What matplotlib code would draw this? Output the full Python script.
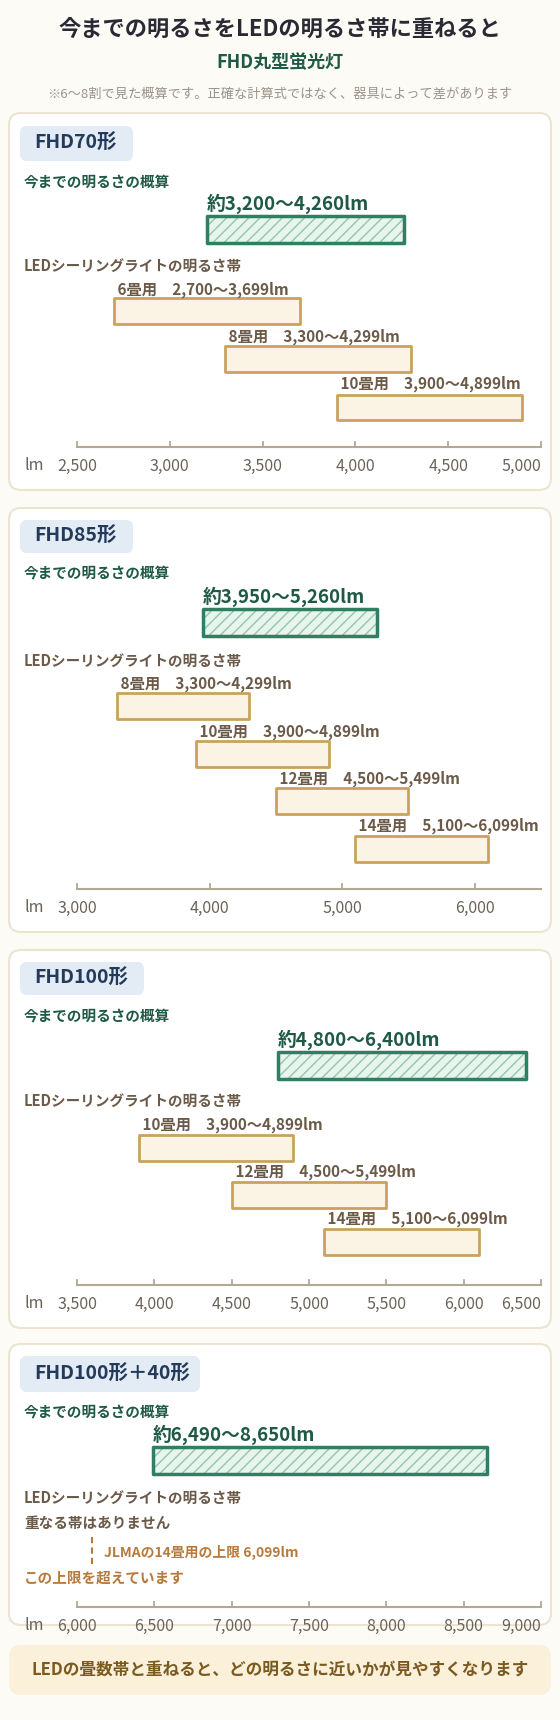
import matplotlib
matplotlib.use("Agg")
import matplotlib.pyplot as plt
from matplotlib.patches import FancyBboxPatch, Rectangle

plt.rcParams['font.family'] = ['Noto Sans CJK JP', 'DejaVu Sans']

W, H = 560, 1720
panel_names = ["FHD70形", "FHD85形", "FHD100形", "FHD100形＋40形"]
est_low = [3200, 3950, 4800, 6490]
est_high = [4260, 5260, 6400, 8650]
est_labels = ["約3,200〜4,260lm", "約3,950〜5,260lm", "約4,800〜6,400lm", "約6,490〜8,650lm"]
led_names = [["6畳用", "8畳用", "10畳用"],
             ["8畳用", "10畳用", "12畳用", "14畳用"],
             ["10畳用", "12畳用", "14畳用"],
             []]
led_low = [[2700, 3300, 3900], [3300, 3900, 4500, 5100], [3900, 4500, 5100], []]
led_high = [[3699, 4299, 4899], [4299, 4899, 5499, 6099], [4899, 5499, 6099], []]
led_ranges = [["2,700〜3,699lm", "3,300〜4,299lm", "3,900〜4,899lm"],
              ["3,300〜4,299lm", "3,900〜4,899lm", "4,500〜5,499lm", "5,100〜6,099lm"],
              ["3,900〜4,899lm", "4,500〜5,499lm", "5,100〜6,099lm"], []]
ticks = [[2500, 3000, 3500, 4000, 4500, 5000],
         [3000, 4000, 5000, 6000],
         [3500, 4000, 4500, 5000, 5500, 6000, 6500],
         [6000, 6500, 7000, 7500, 8000, 8500, 9000]]
xlims = [(2500, 5000), (3000, 6500), (3500, 6500), (6000, 9000)]
jlma_limit = 6099

# layout (pixel)
boxes = [(113, 490), (508, 932), (950, 1328), (1344, 1625)]
badge_y = [(126, 161), (520, 553), (962, 995), (1356, 1392)]
badge_w = [113, 113, 124, 180]
hdr_y = [182, 573, 1016, 1412]
est_bar = [(216, 243), (609, 636), (1052, 1079), (1447, 1474)]
led_hdr_y = [266, 661, 1101, 1498]
led_lab_y = [[290, 337, 384], [684, 732, 779, 826], [1125, 1172, 1219], []]
led_bar = [[(298, 324), (346, 372), (395, 420)],
           [(693, 719), (741, 767), (788, 814), (836, 862)],
           [(1135, 1161), (1182, 1208), (1229, 1255)], []]
axis_y = [447, 889, 1285, 1607]
X0, X1 = 77, 541

BG = "#fdfbf5"; BORDER = "#ebe4d0"; BADGE = "#e3ebf5"; BADGE_T = "#243a5a"
GREEN_T = "#1e5a45"; GREEN_E = "#2f7f62"; GREEN_F = "#e8f4ee"; HATCH = "#93c6ad"
LED_T = "#6b5a48"; LED_F = "#fbf3e4"; LED_E = "#c9a35e"; AX = "#b3a894"; TICK_T = "#6b6258"
ORANGE = "#b87a3c"

fig = plt.figure(figsize=(W / 100, H / 100), dpi=100, facecolor=BG)
bg = fig.add_axes([0, 0, 1, 1])
bg.set_xlim(0, W); bg.set_ylim(H, 0); bg.axis("off")

bg.text(W / 2, 29, "今までの明るさをLEDの明るさ帯に重ねると", ha="center", va="center",
        fontsize=16, fontweight="bold", color="#2a2a35")
bg.text(W / 2, 63, "FHD丸型蛍光灯", ha="center", va="center", fontsize=13,
        fontweight="bold", color=GREEN_T)
bg.text(W / 2, 94, "※6〜8割で見た概算です。正確な計算式ではなく、器具によって差があります",
        ha="center", va="center", fontsize=9.5, color="#9a938a")

for i in range(4):
    top, bot = boxes[i]
    bg.add_patch(FancyBboxPatch((9, top), 542, bot - top, boxstyle="round,pad=0,rounding_size=12",
                                fc="white", ec=BORDER, lw=1.5))
    by0, by1 = badge_y[i]
    bg.add_patch(FancyBboxPatch((20, by0), badge_w[i], by1 - by0, boxstyle="round,pad=0,rounding_size=7",
                                fc=BADGE, ec="none"))
    bg.text(34, (by0 + by1) / 2, panel_names[i], va="center", fontsize=14, fontweight="bold", color=BADGE_T)
    bg.text(24, hdr_y[i], "今までの明るさの概算", va="center", fontsize=10.5, fontweight="bold", color=GREEN_T)
    bg.text(24, led_hdr_y[i], "LEDシーリングライトの明るさ帯", va="center", fontsize=10.5,
            fontweight="bold", color=LED_T)
    bg.text(24, axis_y[i] + 19, "lm", va="center", fontsize=11.5, color=TICK_T)

    ax = fig.add_axes([X0 / W, 1 - bot / H, (X1 - X0) / W, (bot - top) / H])
    ax.set_xlim(*xlims[i]); ax.set_ylim(bot, top); ax.axis("off")
    ax.patch.set_alpha(0)
    y0, y1 = est_bar[i]
    ax.add_patch(Rectangle((est_low[i], y0), est_high[i] - est_low[i], y1 - y0,
                           fc=GREEN_F, ec=HATCH, lw=0, hatch="///"))
    ax.add_patch(Rectangle((est_low[i], y0), est_high[i] - est_low[i], y1 - y0,
                           fill=False, ec=GREEN_E, lw=2.5, joinstyle="round"))
    ax.text(est_low[i], y0 - 12, est_labels[i], va="center", fontsize=13.5, fontweight="bold",
            color=GREEN_T)
    for j in range(len(led_names[i])):
        ly0, ly1 = led_bar[i][j]
        ax.add_patch(Rectangle((led_low[i][j], ly0), led_high[i][j] - led_low[i][j], ly1 - ly0,
                               fc=LED_F, ec=LED_E, lw=2, joinstyle="round"))
        ax.text(led_low[i][j], led_lab_y[i][j], " " + led_names[i][j] + "　" + led_ranges[i][j],
                va="center", fontsize=11, fontweight="bold", color=LED_T)
    ay = axis_y[i]
    ax.plot(xlims[i], [ay, ay], color=AX, lw=1.5, clip_on=False)
    for t in ticks[i]:
        ax.plot([t, t], [ay, ay - 5], color=AX, lw=1.3, clip_on=False)
        ha = "right" if t == xlims[i][1] else "center"
        ax.text(t, ay + 19, f"{t:,}", ha=ha, va="center", fontsize=11.5, color=TICK_T)
    if i == 3:
        bg.text(24, 1523, "重なる帯はありません", va="center", fontsize=10.5, fontweight="bold", color=LED_T)
        ax.plot([jlma_limit, jlma_limit], [1537, 1567], color=ORANGE, lw=1.5, ls=(0, (3, 2)), clip_on=False)
        ax.text(jlma_limit + 75, 1552, "JLMAの14畳用の上限 6,099lm", va="center", fontsize=10,
                fontweight="bold", color=ORANGE)
        bg.text(24, 1578, "この上限を超えています", va="center", fontsize=10.5, fontweight="bold", color=ORANGE)

bg.add_patch(FancyBboxPatch((9, 1645), 542, 50, boxstyle="round,pad=0,rounding_size=12",
                            fc="#fbf0da", ec="none"))
bg.text(W / 2, 1671, "LEDの畳数帯と重ねると、どの明るさに近いかが見やすくなります", ha="center",
        va="center", fontsize=12, fontweight="bold", color="#7a5a1f")

fig.savefig("out.png", dpi=100, facecolor=BG)
